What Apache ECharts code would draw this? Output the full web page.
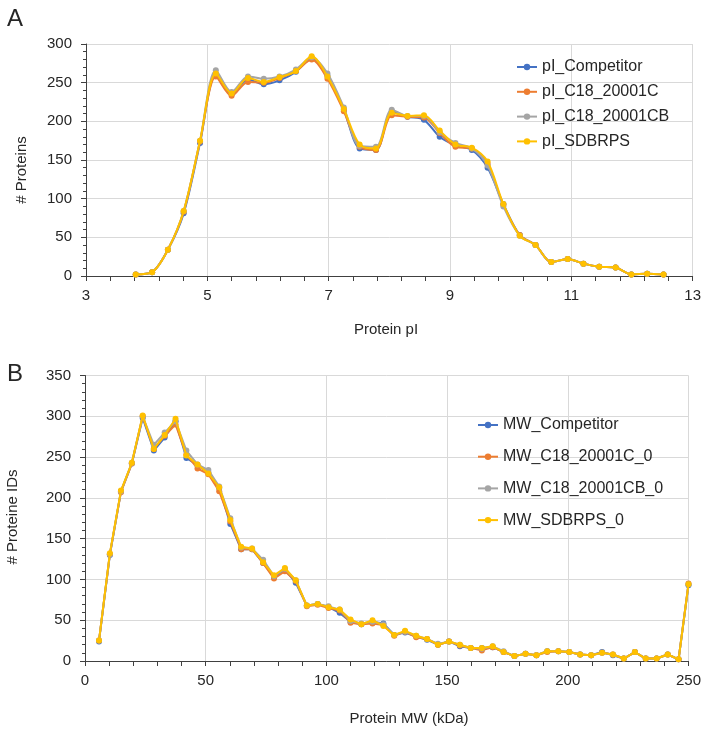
<!DOCTYPE html>
<html><head><meta charset="utf-8">
<script src="https://cdn.jsdelivr.net/npm/echarts@6/dist/echarts.min.js"></script>
<style>html,body{margin:0;padding:0;background:#fff}#c{width:704px;height:729px}</style>
</head><body><div id="c"></div>
<script>
// ---- Panel A: pI distribution ----
var pI = [3.82,4.09,4.35,4.61,4.88,5.14,5.40,5.67,5.93,6.19,6.46,6.72,6.98,7.25,7.51,7.78,8.04,8.30,8.57,8.83,9.09,9.36,9.62,9.88,10.15,10.41,10.67,10.94,11.20,11.46,11.73,11.99,12.25,12.52];
var pI_Competitor = [2,5,34,81,172,261,235,254,248,253,264,282,259,215,165,163,213,206,202,180,169,163,140,93,53,40,18,22,16,12,11,2,3,2];
var pI_C18_20001C = [2,5,34,83,174,258,233,251,250,256,265,280,255,213,167,163,208,206,205,185,167,165,145,92,53,40,18,22,16,12,11,2,3,2];
var pI_C18_20001CB = [2,5,34,84,175,266,238,258,255,258,267,283,262,218,168,167,215,207,207,186,172,165,143,90,52,40,18,22,16,12,11,2,3,2];
var pI_SDBRPS = [2,5,34,84,175,262,236,256,251,257,265,284,258,216,170,165,211,207,208,188,170,166,148,93,52,40,18,22,16,12,11,2,3,2];
var namesA = ['pI_Competitor','pI_C18_20001C','pI_C18_20001CB','pI_SDBRPS'];

// ---- Panel B: MW distribution ----
var MW = [5.8,10.3,14.9,19.4,23.9,28.5,33.0,37.5,42.0,46.6,51.1,55.6,60.2,64.7,69.2,73.8,78.3,82.8,87.3,91.9,96.4,100.9,105.5,110.0,114.5,119.1,123.6,128.1,132.6,137.2,141.7,146.2,150.8,155.3,159.8,164.4,168.9,173.4,177.9,182.5,187.0,191.5,196.1,200.6,205.1,209.7,214.2,218.7,223.2,227.8,232.3,236.8,241.4,245.9,250];
var MW_Competitor = [24,130,208,242,298,258,274,294,249,240,231,212,168,137,137,120,103,112,96,68,70,66,59,48,45,48,46,32,35,30,26,20,24,18,16,16,17,11,6,9,7,12,12,11,8,7,11,7,3,11,3,3,8,2,93];
var MW_C18_20001C_0 = [25,131,207,242,300,260,276,290,253,236,229,208,171,137,137,120,101,110,98,67,69,65,62,47,45,46,44,31,36,29,27,20,24,19,16,13,17,11,6,9,7,11,12,11,8,7,10,8,3,11,3,3,8,2,95];
var MW_C18_20001CB_0 = [25,131,208,243,300,265,280,294,258,241,234,214,175,139,138,124,104,113,99,68,70,67,63,49,46,48,45,32,36,31,27,21,24,20,16,15,18,12,6,9,7,12,12,11,8,7,10,8,3,11,3,3,8,2,94];
var MW_SDBRPS_0 = [25,132,209,243,301,260,277,297,252,241,230,213,173,140,138,121,105,114,99,68,70,66,63,51,45,50,43,32,37,31,27,20,24,20,16,16,18,11,6,9,7,12,12,11,8,7,10,8,3,11,3,3,8,2,94];
var namesB = ['MW_Competitor','MW_C18_20001C_0','MW_C18_20001CB_0','MW_SDBRPS_0'];

var colors = ['#4472C4','#ED7D31','#A5A5A5','#FFC000'];
var FONT = 'Liberation Sans, Arial, sans-serif';
var TXT = '#262626';

function pairs(xs, ys){ return xs.map(function(x,i){ return [x, ys[i]]; }); }

var seriesA = [pI_Competitor, pI_C18_20001C, pI_C18_20001CB, pI_SDBRPS];
var seriesB = [MW_Competitor, MW_C18_20001C_0, MW_C18_20001CB_0, MW_SDBRPS_0];

var series = [];
seriesA.forEach(function(v,i){
  series.push({name:namesA[i], type:'line', xAxisIndex:0, yAxisIndex:0, data:pairs(pI,v),
    smooth:0.3, symbol:'circle', symbolSize:6, showSymbol:true,
    lineStyle:{width:2,color:colors[i]}, itemStyle:{color:colors[i]}, emphasis:{disabled:true}, z:2+i});
});
seriesB.forEach(function(v,i){
  series.push({name:namesB[i], type:'line', xAxisIndex:1, yAxisIndex:1, data:pairs(MW,v),
    symbol:'circle', symbolSize:6, showSymbol:true,
    lineStyle:{width:2,color:colors[i]}, itemStyle:{color:colors[i]}, emphasis:{disabled:true}, z:2+i});
});

function xAx(idx, min, max, interval){
  return {type:'value', gridIndex:idx, min:min, max:max, interval:interval,
    axisLine:{show:true, onZero:false, lineStyle:{color:'#404040', width:1}},
    axisTick:{show:true, inside:false, length:5, lineStyle:{color:'#404040'}},
    minorTick:{show:true, splitNumber:5, length:5, lineStyle:{color:'#404040'}},
    splitLine:{show:true, lineStyle:{color:'#d9d9d9', width:1}},
    axisLabel:{color:TXT, fontSize:15, fontFamily:FONT, margin:12, showMaxLabel:true}};
}
function yAx(idx, min, max, interval){
  return {type:'value', gridIndex:idx, min:min, max:max, interval:interval,
    axisLine:{show:true, lineStyle:{color:'#404040', width:1}},
    axisTick:{show:true, inside:false, length:5, lineStyle:{color:'#404040'}},
    minorTick:{show:true, splitNumber:5, length:3, lineStyle:{color:'#404040'}},
    splitLine:{show:true, lineStyle:{color:'#d9d9d9', width:1}},
    axisLabel:{color:TXT, fontSize:15, fontFamily:FONT, margin:14}};
}

var option = {
  animation:false,
  color:colors,
  grid:[
    {left:86, top:44, width:611, height:232, containLabel:false},
    {left:85, top:375.5, width:606.7, height:285.5, containLabel:false}
  ],
  xAxis:[ xAx(0,3,13,2), xAx(1,0,250,50) ],
  yAxis:[ yAx(0,0,300,50), yAx(1,0,350,50) ],
  legend:[
    {data:namesA, orient:'vertical', left:516, top:59, padding:0, itemWidth:20, itemHeight:8, itemGap:8.8,
     textStyle:{fontSize:16, lineHeight:16, color:TXT, fontFamily:FONT}},
    {data:namesB, orient:'vertical', left:477, top:417, padding:0, itemWidth:20, itemHeight:8, itemGap:15.7,
     textStyle:{fontSize:16, lineHeight:16, color:TXT, fontFamily:FONT}}
  ],
  graphic:[
    {type:'text', left:7, top:7, style:{text:'A', fontSize:24, fill:TXT, fontFamily:FONT}},
    {type:'text', left:7, top:362, style:{text:'B', fontSize:24, fill:TXT, fontFamily:FONT}},
    {type:'text', x:386, y:330, style:{text:'Protein pI', fontSize:15, fill:TXT, fontFamily:FONT, align:'center', verticalAlign:'middle'}},
    {type:'text', x:409, y:719, style:{text:'Protein MW (kDa)', fontSize:15, fill:TXT, fontFamily:FONT, align:'center', verticalAlign:'middle'}},
    {type:'text', x:22, y:170, rotation:Math.PI/2, style:{text:'# Proteins', fontSize:15, fill:TXT, fontFamily:FONT, align:'center', verticalAlign:'middle'}},
    {type:'text', x:13, y:517, rotation:Math.PI/2, style:{text:'# Proteine IDs', fontSize:15, fill:TXT, fontFamily:FONT, align:'center', verticalAlign:'middle'}}
  ],
  series:series
};
var chart = echarts.init(document.getElementById('c'), null, {renderer:'canvas'});
chart.setOption(option);
</script></body></html>
